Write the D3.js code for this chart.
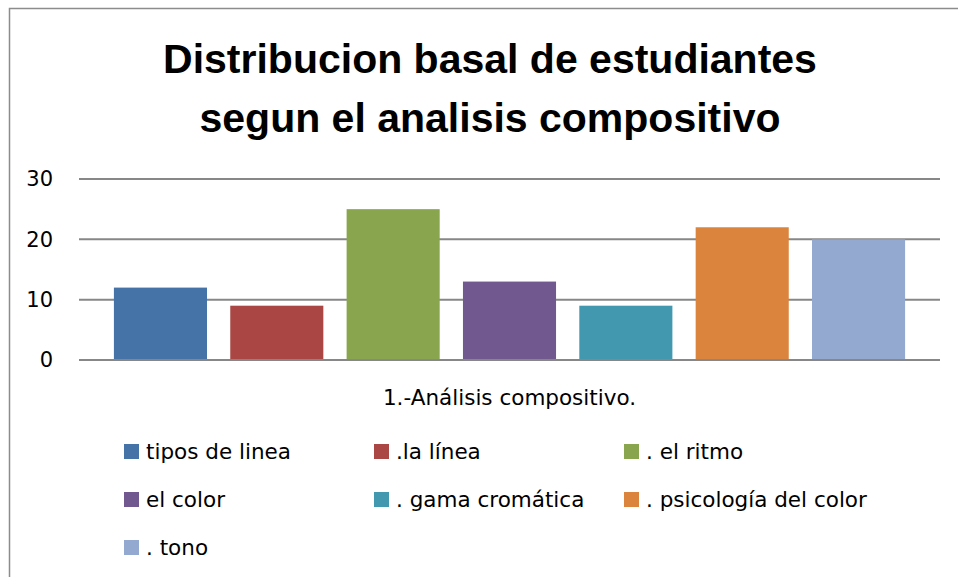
<!DOCTYPE html>
<html>
<head>
<meta charset="utf-8">
<script src="https://cdn.jsdelivr.net/npm/d3@7"></script>
<style>
  body { margin: 0; background: #fff; }
  text { font-family: "DejaVu Sans", sans-serif; fill: #000; }
</style>
</head>
<body>
<div id="chart"></div>
<script>
var titleLines = ["Distribucion basal de estudiantes", "segun el analisis compositivo"];
var category = "1.-Análisis compositivo.";
var seriesNames = ["tipos de linea", ".la línea", ". el ritmo", "el color", ". gama cromática", ". psicología del color", ". tono"];
var seriesValues = [12, 9, 25, 13, 9, 22, 20];
var seriesColors = ["#4572A7", "#AA4643", "#89A54E", "#71588F", "#4198AF", "#DB843D", "#93A9CF"];
var yTicks = [0, 10, 20, 30];

var W = 958, H = 577;
var plot = { left: 79, right: 940, top: 179, bottom: 360 };

var svg = d3.select("#chart").append("svg")
    .attr("width", W)
    .attr("height", H);

// chart border (runs off the right and bottom edge)
svg.append("rect")
    .attr("x", 9.5).attr("y", 8.5)
    .attr("width", W + 10).attr("height", H + 10)
    .attr("fill", "none")
    .attr("stroke", "#8c8c8c")
    .attr("stroke-width", 1.5);

// title
svg.selectAll("text.title")
    .data(titleLines)
    .enter().append("text")
    .attr("class", "title")
    .attr("x", 490)
    .attr("y", (d, i) => 73 + i * 59)
    .attr("text-anchor", "middle")
    .style("font-family", "'Liberation Sans', Arial, sans-serif")
    .style("font-weight", "bold")
    .style("font-size", "41px")
    .text(d => d);

var y = d3.scaleLinear().domain([0, 30]).range([plot.bottom, plot.top]);

var x = d3.scaleBand()
    .domain(seriesNames)
    .range([plot.left, plot.right])
    .paddingInner(0.2)
    .paddingOuter(0.3);

// gridlines
svg.append("g")
    .selectAll("line")
    .data(yTicks)
    .enter().append("line")
    .attr("x1", plot.left).attr("x2", plot.right)
    .attr("y1", d => y(d)).attr("y2", d => y(d))
    .attr("stroke", "#878787")
    .attr("stroke-width", 2);

// y axis labels
var yAxis = d3.axisLeft(y).tickValues(yTicks).tickSize(0).tickPadding(0);
var yg = svg.append("g")
    .attr("transform", "translate(53,0)")
    .call(yAxis);
yg.select(".domain").remove();
yg.selectAll("text")
    .style("font-family", "'DejaVu Sans', sans-serif")
    .style("font-size", "21px")
    .attr("fill", "#000");

// bars
svg.append("g")
    .selectAll("rect")
    .data(seriesValues)
    .enter().append("rect")
    .attr("x", (d, i) => x(seriesNames[i]))
    .attr("y", d => y(d))
    .attr("width", x.bandwidth())
    .attr("height", d => y(0) - y(d))
    .attr("fill", (d, i) => seriesColors[i]);

// baseline on top of bars
svg.append("line")
    .attr("x1", plot.left).attr("x2", plot.right)
    .attr("y1", y(0)).attr("y2", y(0))
    .attr("stroke", "#878787")
    .attr("stroke-width", 2);

// category label
svg.append("text")
    .attr("x", (plot.left + plot.right) / 2)
    .attr("y", 405)
    .attr("text-anchor", "middle")
    .style("font-size", "21.5px")
    .text(category);

// legend, 3 per row
var legend = svg.append("g")
    .selectAll("g")
    .data(seriesNames)
    .enter().append("g")
    .attr("transform", (d, i) => "translate(" + (124 + (i % 3) * 250) + "," + (444 + Math.floor(i / 3) * 48) + ")");

legend.append("rect")
    .attr("width", 15).attr("height", 15)
    .attr("fill", (d, i) => seriesColors[i]);

legend.append("text")
    .attr("x", 22)
    .attr("y", 15)
    .style("font-size", "21.5px")
    .text(d => d);
</script>
</body>
</html>
